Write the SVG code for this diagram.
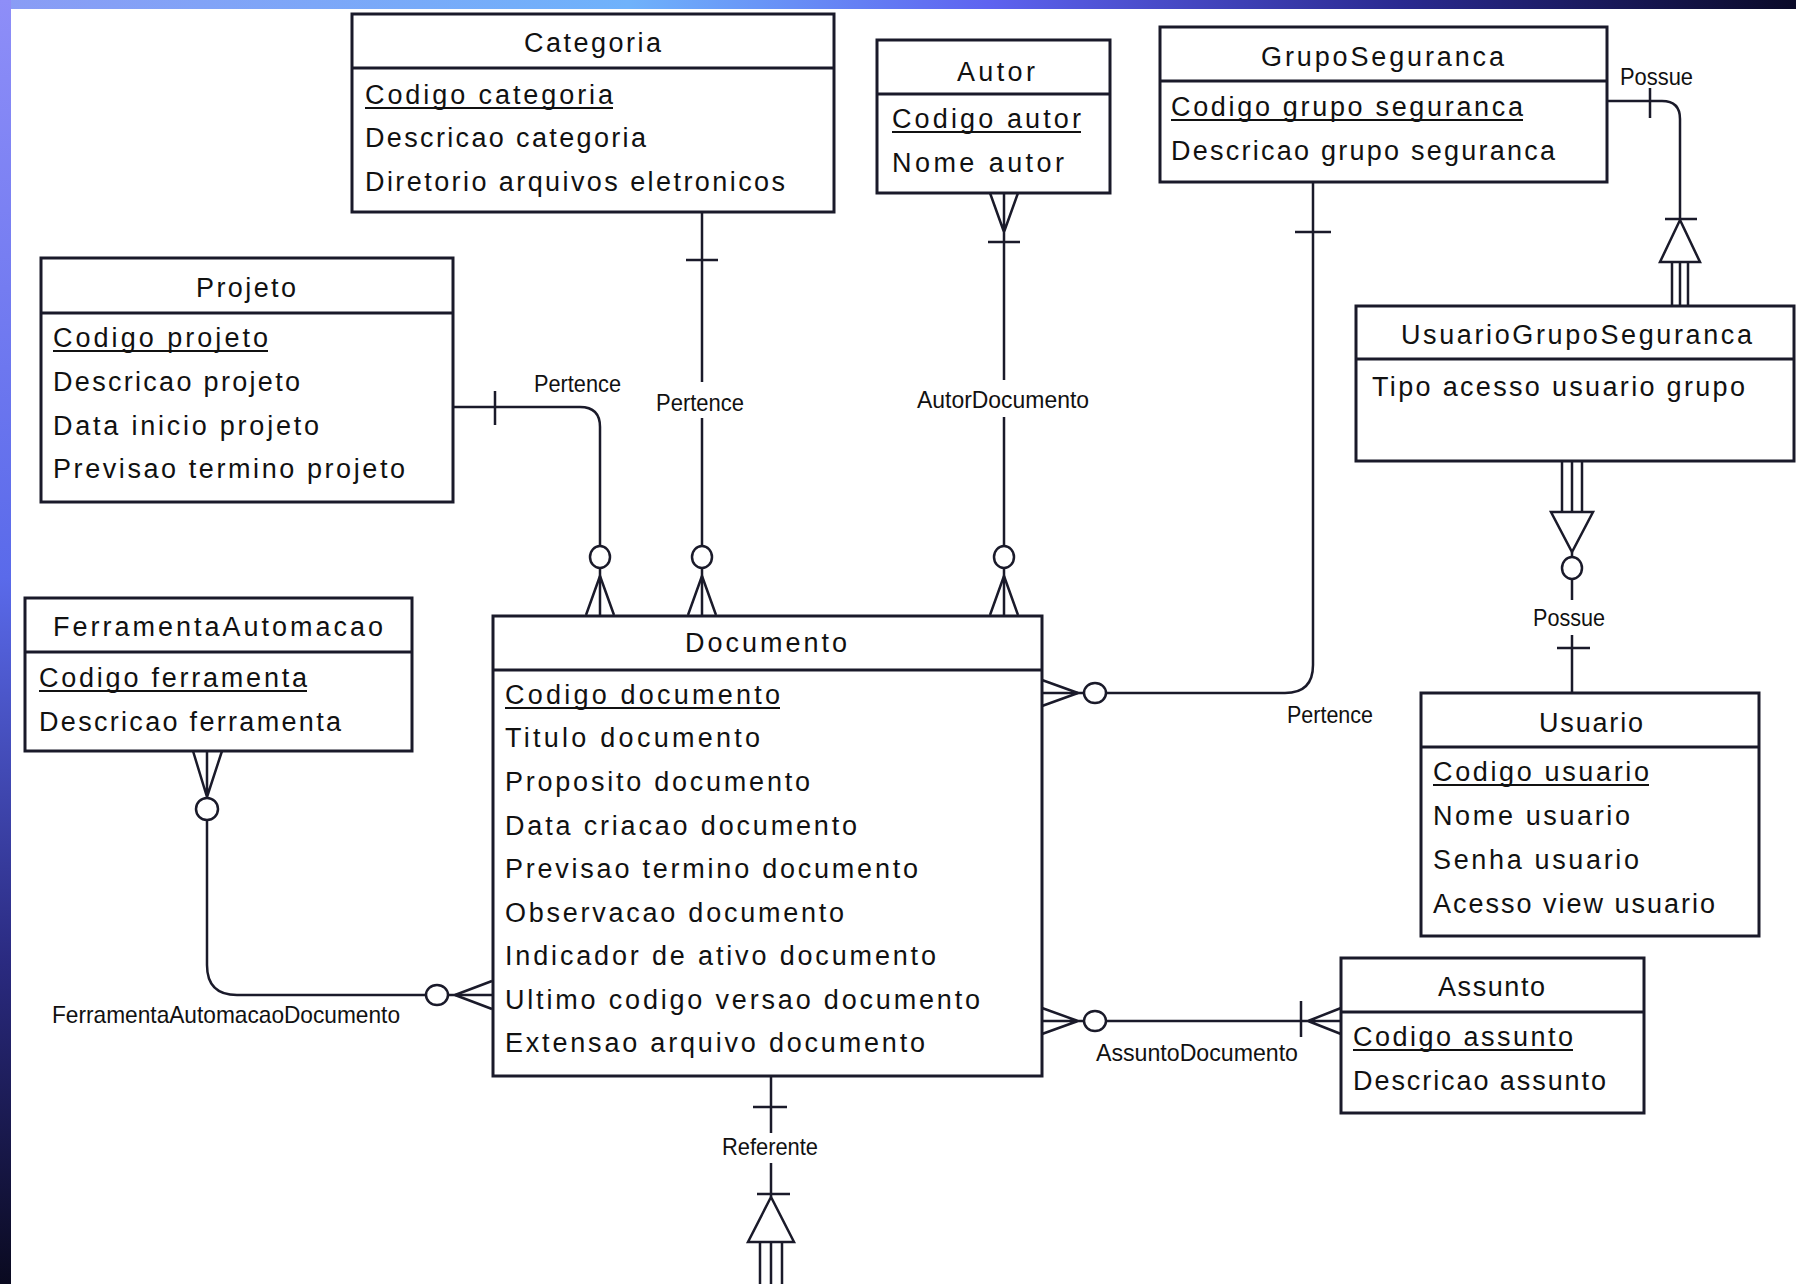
<svg xmlns="http://www.w3.org/2000/svg" width="1796" height="1284" viewBox="0 0 1796 1284">
<defs>
<linearGradient id="topband" x1="0" y1="0" x2="1" y2="0">
<stop offset="0" stop-color="#8a9cf5"/>
<stop offset="0.35" stop-color="#6fb2fb"/>
<stop offset="0.55" stop-color="#5e63f0"/>
<stop offset="0.78" stop-color="#2a2a90"/>
<stop offset="1" stop-color="#0a0a28"/>
</linearGradient>
<linearGradient id="leftband" x1="0" y1="0" x2="0" y2="1">
<stop offset="0" stop-color="#8e8ef8"/>
<stop offset="0.45" stop-color="#5a6aea"/>
<stop offset="0.75" stop-color="#2a2a80"/>
<stop offset="1" stop-color="#0a0a20"/>
</linearGradient>
<style>
.box{fill:#fff;stroke:#1a1a2a;stroke-width:3}
.div{stroke:#1a1a2a;stroke-width:3}
.t{font-family:"Liberation Sans",Arial,sans-serif;font-size:27px;fill:#111}
.u{stroke:#111;stroke-width:2}
.c{fill:none;stroke:#1a1a2a;stroke-width:2.5}
.o{fill:#fff;stroke:#1a1a2a;stroke-width:2.5}
.lbl{font-family:"Liberation Sans",Arial,sans-serif;font-size:24px;fill:#111}
</style>
</defs>
<rect width="1796" height="1284" fill="#fff"/>
<rect x="0" y="0" width="1796" height="9" fill="url(#topband)"/>
<rect x="0" y="0" width="11" height="1284" fill="url(#leftband)"/>

<g id="connectors">
<!-- Categoria - Documento -->
<path class="c" d="M702 212 V382 M702 418 V615 M686 260 H718"/>
<ellipse class="o" cx="702" cy="557" rx="10" ry="11"/>
<path class="c" d="M702 576 L688 615 M702 576 L716 615"/>
<text class="lbl" x="656" y="411" textLength="88" lengthAdjust="spacingAndGlyphs">Pertence</text>

<!-- Projeto - Documento -->
<path class="c" d="M453 407 H580 Q600 407 600 427 V615 M495 391 V425"/>
<ellipse class="o" cx="600" cy="557" rx="10" ry="11"/>
<path class="c" d="M600 576 L586 615 M600 576 L614 615"/>
<text class="lbl" x="534" y="392" textLength="87" lengthAdjust="spacingAndGlyphs">Pertence</text>

<!-- Autor - Documento -->
<path class="c" d="M1004 193 V380 M1004 417 V615 M990 193 L1004 232 M1018 193 L1004 232 M988 242 H1020"/>
<ellipse class="o" cx="1004" cy="557" rx="10" ry="11"/>
<path class="c" d="M1004 576 L990 615 M1004 576 L1018 615"/>
<text class="lbl" x="917" y="408" textLength="172" lengthAdjust="spacingAndGlyphs">AutorDocumento</text>

<!-- GrupoSeguranca - Documento -->
<path class="c" d="M1313 182 V665 Q1313 693 1285 693 H1042 M1295 232 H1331"/>
<ellipse class="o" cx="1095" cy="693" rx="11" ry="10"/>
<path class="c" d="M1078 693 L1042 680 M1078 693 L1042 706"/>
<text class="lbl" x="1287" y="723" textLength="86" lengthAdjust="spacingAndGlyphs">Pertence</text>

<!-- GrupoSeguranca - UsuarioGrupoSeguranca -->
<path class="c" d="M1607 101 H1662 Q1680 101 1680 119 V220 M1650 88 V118 M1665 219 H1697"/>
<polygon class="o" points="1680,220 1660,262 1700,262"/>
<path class="c" d="M1672 262 V306 M1680 262 V306 M1688 262 V306"/>
<text class="lbl" x="1620" y="85" textLength="73" lengthAdjust="spacingAndGlyphs">Possue</text>

<!-- UsuarioGrupoSeguranca - Usuario -->
<path class="c" d="M1562 461 V512 M1572 461 V512 M1582 461 V512"/>
<polygon class="o" points="1551,512 1593,512 1572,552"/>
<path class="c" d="M1572 552 V600 M1572 635 V693 M1557 648 H1590"/>
<ellipse class="o" cx="1572" cy="568" rx="10" ry="11"/>
<text class="lbl" x="1533" y="626" textLength="72" lengthAdjust="spacingAndGlyphs">Possue</text>

<!-- FerramentaAutomacao - Documento -->
<path class="c" d="M207 751 V965 Q207 995 237 995 H492 M193 751 L207 797 M222 751 L207 797"/>
<ellipse class="o" cx="207" cy="809" rx="11" ry="11"/>
<ellipse class="o" cx="437" cy="995" rx="11" ry="10"/>
<path class="c" d="M455 995 L492 981 M455 995 L492 1009"/>
<text class="lbl" x="52" y="1023" textLength="348" lengthAdjust="spacingAndGlyphs">FerramentaAutomacaoDocumento</text>

<!-- Assunto - Documento -->
<path class="c" d="M1042 1021 H1341 M1078 1021 L1042 1008 M1078 1021 L1042 1034 M1301 1001 V1037 M1308 1021 L1341 1008 M1308 1021 L1341 1034"/>
<ellipse class="o" cx="1095" cy="1021" rx="11" ry="10"/>
<text class="lbl" x="1096" y="1061" textLength="202" lengthAdjust="spacingAndGlyphs">AssuntoDocumento</text>

<!-- Referente -->
<path class="c" d="M771 1076 V1133 M771 1163 V1197 M753 1107 H787 M757 1194 H790"/>
<polygon class="o" points="771,1197 748,1242 794,1242"/>
<path class="c" d="M760 1242 V1284 M771 1242 V1284 M782 1242 V1284"/>
<text class="lbl" x="722" y="1155" textLength="96" lengthAdjust="spacingAndGlyphs">Referente</text>
</g>

<g id="categoria">
<rect class="box" x="352" y="14" width="482" height="198"/>
<line class="div" x1="352" y1="68" x2="834" y2="68"/>
<text class="t" x="524" y="52" textLength="137" lengthAdjust="spacing">Categoria</text>
<text class="t" x="365" y="104" textLength="248" lengthAdjust="spacing">Codigo categoria</text>
<line class="u" x1="365" y1="108" x2="613" y2="108"/>
<text class="t" x="365" y="147" textLength="281" lengthAdjust="spacing">Descricao categoria</text>
<text class="t" x="365" y="191" textLength="420" lengthAdjust="spacing">Diretorio arquivos eletronicos</text>
</g>

<g id="autor">
<rect class="box" x="877" y="40" width="233" height="153"/>
<line class="div" x1="877" y1="94" x2="1110" y2="94"/>
<text class="t" x="957" y="81" textLength="78" lengthAdjust="spacing">Autor</text>
<text class="t" x="892" y="128" textLength="189" lengthAdjust="spacing">Codigo autor</text>
<line class="u" x1="892" y1="132" x2="1081" y2="132"/>
<text class="t" x="892" y="172" textLength="172" lengthAdjust="spacing">Nome autor</text>
</g>

<g id="grupoSeguranca">
<rect class="box" x="1160" y="27" width="447" height="155"/>
<line class="div" x1="1160" y1="81" x2="1607" y2="81"/>
<text class="t" x="1261" y="66" textLength="243" lengthAdjust="spacing">GrupoSeguranca</text>
<text class="t" x="1171" y="116" textLength="352" lengthAdjust="spacing">Codigo grupo seguranca</text>
<line class="u" x1="1171" y1="120" x2="1523" y2="120"/>
<text class="t" x="1171" y="160" textLength="384" lengthAdjust="spacing">Descricao grupo seguranca</text>
</g>

<g id="projeto">
<rect class="box" x="41" y="258" width="412" height="244"/>
<line class="div" x1="41" y1="313" x2="453" y2="313"/>
<text class="t" x="196" y="297" textLength="100" lengthAdjust="spacing">Projeto</text>
<text class="t" x="53" y="347" textLength="215" lengthAdjust="spacing">Codigo projeto</text>
<line class="u" x1="53" y1="351" x2="268" y2="351"/>
<text class="t" x="53" y="391" textLength="247" lengthAdjust="spacing">Descricao projeto</text>
<text class="t" x="53" y="435" textLength="266" lengthAdjust="spacing">Data inicio projeto</text>
<text class="t" x="53" y="478" textLength="352" lengthAdjust="spacing">Previsao termino projeto</text>
</g>

<g id="usuarioGrupoSeguranca">
<rect class="box" x="1356" y="306" width="438" height="155"/>
<line class="div" x1="1356" y1="359" x2="1794" y2="359"/>
<text class="t" x="1401" y="344" textLength="351" lengthAdjust="spacing">UsuarioGrupoSeguranca</text>
<text class="t" x="1372" y="396" textLength="373" lengthAdjust="spacing">Tipo acesso usuario grupo</text>
</g>

<g id="ferramentaAutomacao">
<rect class="box" x="25" y="598" width="387" height="153"/>
<line class="div" x1="25" y1="652" x2="412" y2="652"/>
<text class="t" x="53" y="636" textLength="330" lengthAdjust="spacing">FerramentaAutomacao</text>
<text class="t" x="39" y="687" textLength="268" lengthAdjust="spacing">Codigo ferramenta</text>
<line class="u" x1="39" y1="691" x2="307" y2="691"/>
<text class="t" x="39" y="731" textLength="302" lengthAdjust="spacing">Descricao ferramenta</text>
</g>

<g id="documento">
<rect class="box" x="493" y="616" width="549" height="460"/>
<line class="div" x1="493" y1="670" x2="1042" y2="670"/>
<text class="t" x="685" y="652" textLength="162" lengthAdjust="spacing">Documento</text>
<text class="t" x="505" y="704" textLength="275" lengthAdjust="spacing">Codigo documento</text>
<line class="u" x1="505" y1="708" x2="780" y2="708"/>
<text class="t" x="505" y="747" textLength="255" lengthAdjust="spacing">Titulo documento</text>
<text class="t" x="505" y="791" textLength="305" lengthAdjust="spacing">Proposito documento</text>
<text class="t" x="505" y="835" textLength="352" lengthAdjust="spacing">Data criacao documento</text>
<text class="t" x="505" y="878" textLength="413" lengthAdjust="spacing">Previsao termino documento</text>
<text class="t" x="505" y="922" textLength="339" lengthAdjust="spacing">Observacao documento</text>
<text class="t" x="505" y="965" textLength="431" lengthAdjust="spacing">Indicador de ativo documento</text>
<text class="t" x="505" y="1009" textLength="475" lengthAdjust="spacing">Ultimo codigo versao documento</text>
<text class="t" x="505" y="1052" textLength="420" lengthAdjust="spacing">Extensao arquivo documento</text>
</g>

<g id="usuario">
<rect class="box" x="1421" y="693" width="338" height="243"/>
<line class="div" x1="1421" y1="747" x2="1759" y2="747"/>
<text class="t" x="1539" y="732" textLength="104" lengthAdjust="spacing">Usuario</text>
<text class="t" x="1433" y="781" textLength="216" lengthAdjust="spacing">Codigo usuario</text>
<line class="u" x1="1433" y1="785" x2="1649" y2="785"/>
<text class="t" x="1433" y="825" textLength="197" lengthAdjust="spacing">Nome usuario</text>
<text class="t" x="1433" y="869" textLength="206" lengthAdjust="spacing">Senha usuario</text>
<text class="t" x="1433" y="913" textLength="282" lengthAdjust="spacing">Acesso view usuario</text>
</g>

<g id="assunto">
<rect class="box" x="1341" y="958" width="303" height="155"/>
<line class="div" x1="1341" y1="1012" x2="1644" y2="1012"/>
<text class="t" x="1438" y="996" textLength="107" lengthAdjust="spacing">Assunto</text>
<text class="t" x="1353" y="1046" textLength="220" lengthAdjust="spacing">Codigo assunto</text>
<line class="u" x1="1353" y1="1050" x2="1573" y2="1050"/>
<text class="t" x="1353" y="1090" textLength="253" lengthAdjust="spacing">Descricao assunto</text>
</g>
</svg>
